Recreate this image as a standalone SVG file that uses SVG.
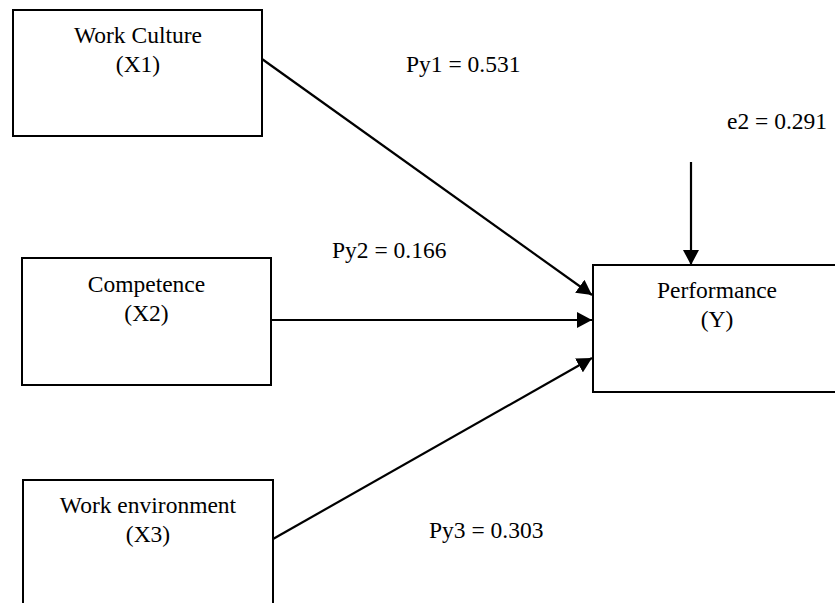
<svg xmlns="http://www.w3.org/2000/svg" width="835" height="603" viewBox="0 0 835 603">
  <style>
    .box { fill: #ffffff; stroke: #000000; stroke-width: 2; }
    .lbl { font-family: "Liberation Serif", "Times New Roman", "DejaVu Serif", serif; font-size: 23.5px; fill: #000000; }
    .mid { text-anchor: middle; }
    .edge { stroke: #000000; stroke-width: 2.2; fill: none; marker-end: url(#arrow); }
  </style>
  <defs>
    <marker id="arrow" markerUnits="userSpaceOnUse" markerWidth="15" markerHeight="16" refX="15" refY="8" orient="auto">
      <path d="M0,0 L15,8 L0,16 Z" fill="#000000"/>
    </marker>
  </defs>
  <rect width="835" height="603" fill="#ffffff"/>

  <g id="node-x1">
    <rect class="box" x="13" y="10" width="249" height="126"/>
    <text class="lbl mid" x="138" y="43">Work Culture</text>
    <text class="lbl mid" x="138" y="72">(X1)</text>
  </g>
  <g id="node-x2">
    <rect class="box" x="22" y="258" width="249" height="127"/>
    <text class="lbl mid" x="146.5" y="292">Competence</text>
    <text class="lbl mid" x="146.5" y="321">(X2)</text>
  </g>
  <g id="node-x3">
    <rect class="box" x="23" y="480" width="250" height="140"/>
    <text class="lbl mid" x="148" y="513">Work environment</text>
    <text class="lbl mid" x="148" y="542">(X3)</text>
  </g>
  <g id="node-y">
    <rect class="box" x="593" y="265" width="249" height="127"/>
    <text class="lbl mid" x="717" y="298">Performance</text>
    <text class="lbl mid" x="717" y="327">(Y)</text>
  </g>

  <g id="connectors">
    <line class="edge" x1="262" y1="59" x2="592" y2="295"/>
    <line class="edge" x1="271" y1="320" x2="592" y2="320"/>
    <line class="edge" x1="273" y1="539" x2="592" y2="358"/>
    <line class="edge" x1="691" y1="162" x2="691" y2="265"/>
  </g>

  <g id="labels">
    <text class="lbl" x="406" y="72">Py1 = 0.531</text>
    <text class="lbl" x="332" y="258">Py2 = 0.166</text>
    <text class="lbl" x="429" y="538">Py3 = 0.303</text>
    <text class="lbl" x="727" y="129">e2 = 0.291</text>
  </g>
</svg>
